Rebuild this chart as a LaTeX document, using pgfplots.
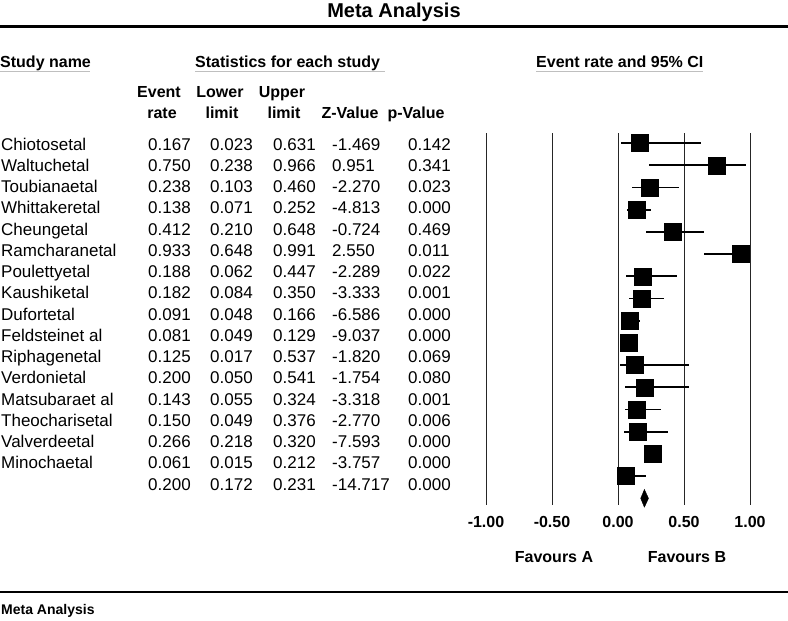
\documentclass[border=0pt]{standalone}
\usepackage{fontspec}
\setmainfont{Liberation Sans}
\usepackage{pgfplots}
\usepackage{pgfplotstable}
\pgfplotsset{compat=1.18}

\pgfplotstableread{
row name er ll ul z p
1 Chiotosetal 0.167 0.023 0.631 -1.469 0.142
2 Waltuchetal 0.750 0.238 0.966 0.951 0.341
3 Toubianaetal 0.238 0.103 0.460 -2.270 0.023
4 Whittakeretal 0.138 0.071 0.252 -4.813 0.000
5 Cheungetal 0.412 0.210 0.648 -0.724 0.469
6 Ramcharanetal 0.933 0.648 0.991 2.550 0.011
7 Poulettyetal 0.188 0.062 0.447 -2.289 0.022
8 Kaushiketal 0.182 0.084 0.350 -3.333 0.001
9 Dufortetal 0.091 0.048 0.166 -6.586 0.000
10 {Feldsteinet al} 0.081 0.049 0.129 -9.037 0.000
11 Riphagenetal 0.125 0.017 0.537 -1.820 0.069
12 Verdonietal 0.200 0.050 0.541 -1.754 0.080
13 {Matsubaraet al} 0.143 0.055 0.324 -3.318 0.001
14 Theocharisetal 0.150 0.049 0.376 -2.770 0.006
15 Valverdeetal 0.266 0.218 0.320 -7.593 0.000
16 Minochaetal 0.061 0.015 0.212 -3.757 0.000
17 {} 0.200 0.172 0.231 -14.717 0.000
}\data

\newcommand{\rg}{\fontsize{17}{19}\selectfont}
\newcommand{\bd}{\fontsize{16}{18}\selectfont\bfseries}

\begin{document}
\begin{tikzpicture}[x=1pt,y=-1pt]
\path[use as bounding box] (0,0) rectangle (788,621);

% title and rules
\node[anchor=base, font=\fontsize{20}{22}\selectfont\bfseries] at (394,17) {Meta Analysis};
\draw[line width=3pt] (0,26) -- (788,26);
\draw[line width=2.5pt] (0,592) -- (788,592);
\node[anchor=base west, inner sep=0pt, font=\fontsize{14}{16}\selectfont\bfseries] at (1,614) {Meta Analysis};

% group headers
\node[anchor=base west, inner sep=0pt, font=\bd] at (0,67) {Study name};
\node[anchor=base west, inner sep=0pt, font=\bd] at (195,67) {Statistics for each study};
\node[anchor=base west, inner sep=0pt, font=\bd] at (536,67) {Event rate and 95\% CI};
\draw[black!25, line width=1pt] (0,71) -- (90,71) (195,71) -- (385,71) (536,71) -- (703,71);

% column headers
\begin{scope}[every node/.style={anchor=base, inner sep=0pt, font=\bd}]
\node at (159,97) {Event};  \node at (162,118) {rate};
\node at (220,97) {Lower};  \node at (222,118) {limit};
\node at (282,97) {Upper};  \node at (284,118) {limit};
\node at (350,118) {Z-Value};
\node at (416,118) {p-Value};
\end{scope}

% table text
\foreach \r in {0,...,16}{
  \pgfmathsetmacro{\yb}{150+21.25*\r}
  \pgfplotstablegetelem{\r}{name}\of\data
  \node[anchor=base west, inner sep=0pt, font=\rg] at (1,\yb) {\pgfplotsretval};
  \pgfplotstablegetelem{\r}{er}\of\data
  \node[anchor=base west, inner sep=0pt, font=\rg] at (148,\yb) {\pgfplotsretval};
  \pgfplotstablegetelem{\r}{ll}\of\data
  \node[anchor=base west, inner sep=0pt, font=\rg] at (210,\yb) {\pgfplotsretval};
  \pgfplotstablegetelem{\r}{ul}\of\data
  \node[anchor=base west, inner sep=0pt, font=\rg] at (273,\yb) {\pgfplotsretval};
  \pgfplotstablegetelem{\r}{z}\of\data
  \node[anchor=base west, inner sep=0pt, font=\rg] at (332,\yb) {\pgfplotsretval};
  \pgfplotstablegetelem{\r}{p}\of\data
  \node[anchor=base west, inner sep=0pt, font=\rg] at (408,\yb) {\pgfplotsretval};
}

\begin{axis}[
    at={(486pt,-505pt)}, anchor=south west,
    scale only axis,
    width=264pt, height=372pt,
    xmin=-1, xmax=1,
    ymin=0.55, ymax=17.3,
    y dir=reverse,
    clip=false,
    axis line style={draw=none},
    tick style={draw=none},
    ytick=\empty,
    xtick={-1,-0.5,0,0.5,1},
    xticklabels={-1.00,-0.50,0.00,0.50,1.00},
    xticklabel style={font=\bd, yshift=-8pt},
    xmajorgrids,
    grid style={black!85, line width=0.8pt},
]
\addplot[only marks, mark=square*, mark size=8.5pt, black,
    skip coords between index={16}{17},
    error bars/.cd, x dir=both, x explicit, error mark=none,
    error bar style={line width=1.8pt}]
  table[x=er, y=row,
    x error plus expr=\thisrow{ul}-\thisrow{er},
    x error minus expr=\thisrow{er}-\thisrow{ll}] {\data};
\addplot[fill=black, draw=black]
  coordinates {(0.172,17) (0.200,16.6) (0.231,17) (0.200,17.4)} -- cycle;
\end{axis}

\node[font=\bd] at (554,557) {Favours A};
\node[font=\bd] at (687,557) {Favours B};
\end{tikzpicture}
\end{document}
